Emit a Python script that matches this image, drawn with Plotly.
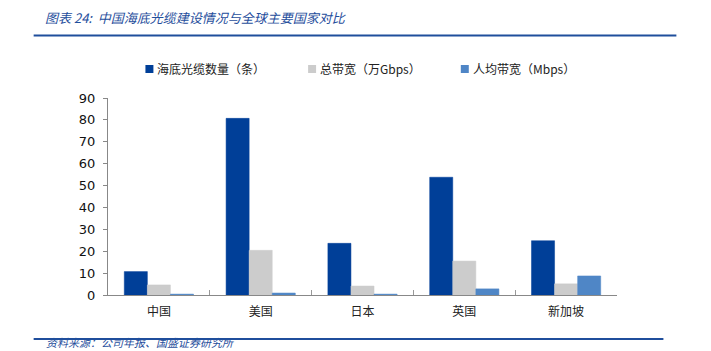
import plotly.graph_objects as go

categories = ["中国", "美国", "日本", "英国", "新加坡"]
cables = [10.7, 80.7, 23.6, 53.8, 24.8]
bandwidth_total = [4.6, 20.4, 4.1, 15.5, 5.1]
bandwidth_per_capita = [0.4, 0.9, 0.4, 2.8, 8.7]

series_names = ["海底光缆数量（条）", "总带宽（万Gbps）", "人均带宽（Mbps）"]
colors = ["#003f98", "#cccccc", "#4f86c6"]
y_ticks = [0, 10, 20, 30, 40, 50, 60, 70, 80, 90]

title_text = "图表 24:  中国海底光缆建设情况与全球主要国家对比"
source_text = "资料来源：公司年报、国盛证券研究所"

W, H = 711, 351
L, R, T, B = 107.5, 93.5, 98, 56
PW, PH = W - L - R, H - T - B


def px(x):
    return (x - L) / PW


def py(y):
    return (H - B - y) / PH


cjk = "Noto Sans CJK SC"

fig = go.Figure()
for name, vals, col in zip(series_names, [cables, bandwidth_total, bandwidth_per_capita], colors):
    fig.add_trace(go.Bar(
        x=categories, y=vals, name=name,
        marker=dict(color=col, line=dict(color=col, width=0.5)),
        showlegend=False,
    ))

fig.update_layout(
    width=W, height=H,
    margin=dict(l=L, r=R, t=T, b=B),
    paper_bgcolor="white", plot_bgcolor="white",
    barmode="group", bargap=0.32, bargroupgap=0,
    xaxis=dict(
        showline=True, linecolor="#888888", linewidth=1,
        ticks="inside", ticklen=5, tickcolor="#999999", tickson="boundaries",
        tickfont=dict(family=cjk, size=12, color="#222222"),
        ticklabelstandoff=6,
        showgrid=False, fixedrange=True,
    ),
    yaxis=dict(
        range=[0, 90], tickvals=y_ticks,
        showline=True, linecolor="#888888", linewidth=1,
        ticks="outside", ticklen=4, tickcolor="#888888",
        tickfont=dict(family="DejaVu Sans", size=13, color="#111111"),
        ticklabelstandoff=5,
        showgrid=False, zeroline=False, fixedrange=True,
    ),
    font=dict(family=cjk),
)

# manual legend
legend_sq_x = [145, 308, 461]
for name, col, sx in zip(series_names, colors, legend_sq_x):
    fig.add_shape(type="rect", xref="paper", yref="paper",
                  x0=px(sx), x1=px(sx + 8), y0=py(73), y1=py(65),
                  fillcolor=col, line=dict(width=0))
    fig.add_annotation(xref="paper", yref="paper", x=px(sx + 10), y=py(69),
                       xanchor="left", yanchor="middle", showarrow=False,
                       text=name, font=dict(family=cjk, size=12, color="#222222"))

title_color = "#1f4e9c"
fig.add_annotation(
    xref="paper", yref="paper", x=px(42), y=py(18),
    xanchor="left", yanchor="middle", showarrow=False,
    text="<i>" + title_text + "</i>",
    font=dict(family=cjk, size=13, color=title_color),
)
fig.add_annotation(
    xref="paper", yref="paper", x=px(44), y=py(350.5),
    xanchor="left", yanchor="bottom", showarrow=False,
    text="<i>" + source_text + "</i>",
    font=dict(family=cjk, size=11, color=title_color),
    borderpad=0,
)
fig.add_shape(type="line", xref="paper", yref="paper",
              x0=px(33), x1=px(677), y0=py(35.5), y1=py(35.5),
              line=dict(color="#1f4e9c", width=2))
fig.add_shape(type="line", xref="paper", yref="paper",
              x0=px(33), x1=px(664), y0=py(339), y1=py(339),
              line=dict(color="#1f4e9c", width=2))

fig.write_html("out.html")
